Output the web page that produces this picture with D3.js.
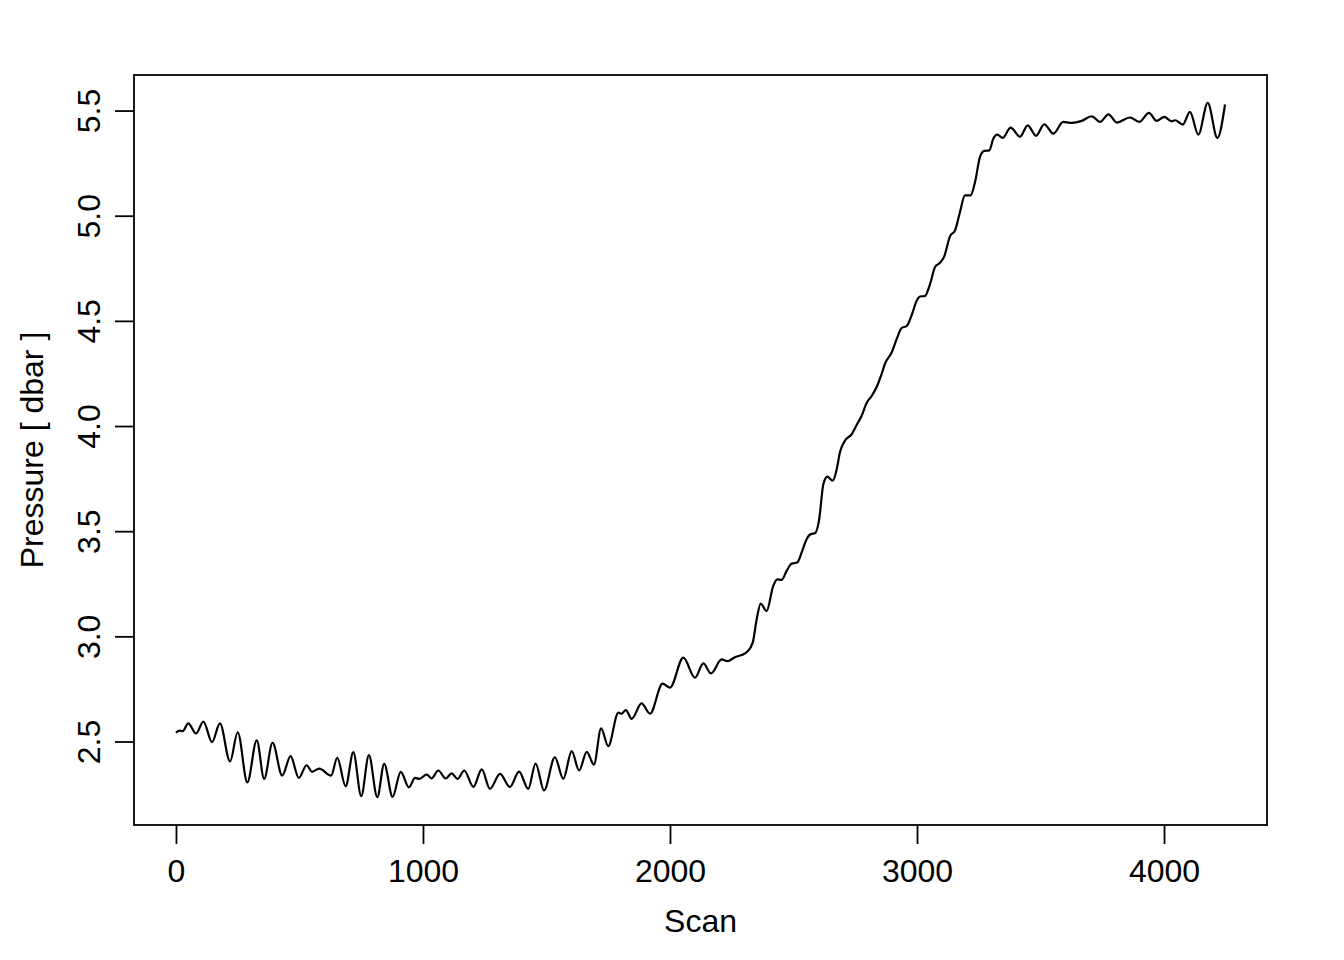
<!DOCTYPE html>
<html>
<head>
<meta charset="utf-8">
<script src="https://cdn.jsdelivr.net/npm/d3@7"></script>
<style>
  body { margin: 0; background: #fff; }
  svg text { font-family: "Liberation Sans", Arial, Helvetica, sans-serif; fill: #000; }
</style>
</head>
<body>
<svg id="chart" width="1344" height="960"></svg>
<script>
// scan number and pressure (peaks, troughs and bends)
var scan = [0, 13, 27, 50, 81, 111, 146, 178, 219, 250, 289, 327, 357, 391, 430, 464, 497, 529, 551, 580, 628,
  653, 687, 718, 750, 781, 815, 843, 877, 910, 943, 968, 985, 1015, 1035, 1062, 1092, 1116, 1140, 1167, 1204, 1238, 1271,
  1312, 1352, 1389, 1426, 1456, 1490, 1534, 1568, 1602, 1632, 1663, 1692, 1721, 1750, 1791, 1804, 1821, 1845,
  1885, 1919, 1970, 2000, 2054, 2101, 2135, 2166, 2209, 2232, 2267, 2290, 2311, 2335, 2351, 2367, 2391,
  2418, 2434, 2452, 2472, 2493, 2515, 2533, 2553, 2570, 2587, 2603, 2621, 2637, 2659, 2675, 2688, 2708, 2736,
  2756, 2776, 2796, 2817, 2837, 2857, 2870, 2898, 2918, 2938, 2958, 2979, 2999, 3012, 3032, 3053, 3073, 3093, 3109,
  3134, 3154, 3174, 3194, 3217, 3235, 3255, 3272, 3293, 3309, 3325, 3347, 3379, 3417, 3448, 3482, 3515, 3552,
  3592, 3626, 3667, 3707, 3741, 3775, 3809, 3862, 3900, 3939, 3970, 4001, 4031, 4045, 4076, 4105, 4139, 4177, 4216, 4247];

var pressure = [2.541, 2.552, 2.549, 2.586, 2.538, 2.594, 2.497, 2.586, 2.405, 2.544, 2.306, 2.506, 2.322, 2.494, 2.338, 2.430, 2.327, 2.387, 2.356, 2.371, 2.338,
  2.422, 2.287, 2.449, 2.240, 2.435, 2.235, 2.394, 2.237, 2.356, 2.282, 2.327, 2.322, 2.343, 2.325, 2.362, 2.324, 2.348, 2.322, 2.362, 2.284, 2.367, 2.275,
  2.346, 2.284, 2.357, 2.275, 2.395, 2.267, 2.425, 2.322, 2.454, 2.362, 2.451, 2.390, 2.562, 2.478, 2.637, 2.632, 2.649, 2.608,
  2.681, 2.632, 2.775, 2.756, 2.899, 2.803, 2.871, 2.824, 2.890, 2.882, 2.903, 2.911, 2.925, 2.970, 3.081, 3.156, 3.120,
  3.240, 3.271, 3.268, 3.311, 3.346, 3.351, 3.399, 3.462, 3.486, 3.490, 3.549, 3.724, 3.759, 3.740, 3.795, 3.875, 3.930, 3.962,
  4.006, 4.049, 4.110, 4.144, 4.187, 4.248, 4.295, 4.351, 4.414, 4.467, 4.475, 4.529, 4.597, 4.616, 4.618, 4.676, 4.756, 4.776, 4.803,
  4.903, 4.930, 5.018, 5.097, 5.097, 5.160, 5.280, 5.308, 5.311, 5.367, 5.386, 5.370, 5.419, 5.375, 5.430, 5.380, 5.435, 5.390,
  5.446, 5.441, 5.451, 5.473, 5.446, 5.482, 5.443, 5.467, 5.446, 5.489, 5.451, 5.470, 5.449, 5.454, 5.433, 5.494, 5.386, 5.537, 5.370, 5.529];

var xTicks = [0, 1000, 2000, 3000, 4000];
var yTicks = [2.5, 3.0, 3.5, 4.0, 4.5, 5.0, 5.5];
var xLabel = "Scan";
var yLabel = "Pressure [ dbar ]";

var LEFT = 134, RIGHT = 1267, TOP = 75, BOTTOM = 825;
var FONT = 32;
var TICK = 19;

// R style 4% padding on both axes
function pad(ext) {
  var d = (ext[1] - ext[0]) * 0.04;
  return [ext[0] - d, ext[1] + d];
}

var data = scan.map(function(s, i) { return {scan: s, p: pressure[i]}; });

var x = d3.scaleLinear().domain(pad(d3.extent(scan))).range([LEFT, RIGHT]);
var y = d3.scaleLinear().domain(pad(d3.extent(pressure))).range([BOTTOM, TOP]);

var svg = d3.select('#chart');

var line = d3.line()
  .x(function(d) { return x(d.scan); })
  .y(function(d) { return y(d.p); })
  .curve(d3.curveMonotoneX);

svg.append('path')
  .datum(data)
  .attr('d', line)
  .attr('fill', 'none')
  .attr('stroke', '#000')
  .attr('stroke-width', 2.2)
  .attr('stroke-linejoin', 'round');

// x axis
var gx = svg.append('g')
  .attr('transform', 'translate(0,' + BOTTOM + ')')
  .call(d3.axisBottom(x).tickValues(xTicks).tickSize(TICK).tickPadding(18).tickFormat(d3.format('d')));
gx.select('.domain').remove();
gx.selectAll('line').attr('stroke', '#000').attr('stroke-width', 1.8);
gx.selectAll('text').attr('font-size', FONT).attr('dy', 0).attr('y', 57).attr('fill', '#000');

// y axis with labels parallel to the axis
var gy = svg.append('g')
  .attr('transform', 'translate(' + LEFT + ',0)')
  .call(d3.axisLeft(y).tickValues(yTicks).tickSize(TICK).tickFormat(d3.format('.1f')));
gy.select('.domain').remove();
gy.selectAll('line').attr('stroke', '#000').attr('stroke-width', 1.8);
gy.selectAll('text')
  .attr('font-size', FONT)
  .attr('transform', 'rotate(-90)')
  .attr('x', 0)
  .attr('y', -34)
  .attr('dy', 0)
  .attr('text-anchor', 'middle')
  .attr('fill', '#000');

// frame
svg.append('rect')
  .attr('x', LEFT).attr('y', TOP)
  .attr('width', RIGHT - LEFT).attr('height', BOTTOM - TOP)
  .attr('fill', 'none')
  .attr('stroke', '#000')
  .attr('stroke-width', 1.8);

svg.append('text')
  .attr('x', (LEFT + RIGHT) / 2)
  .attr('y', 932)
  .attr('text-anchor', 'middle')
  .attr('font-size', FONT)
  .text(xLabel);

svg.append('text')
  .attr('transform', 'translate(43,' + ((TOP + BOTTOM) / 2) + ') rotate(-90)')
  .attr('text-anchor', 'middle')
  .attr('font-size', FONT)
  .text(yLabel);
</script>
</body>
</html>
